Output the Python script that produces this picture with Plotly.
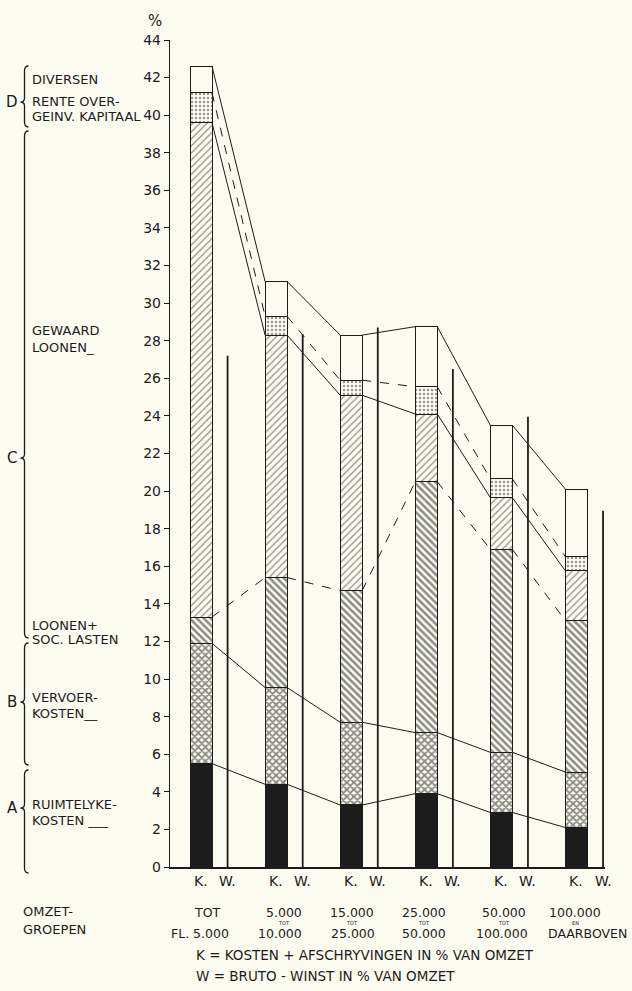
import plotly.graph_objects as go
import numpy as np

# ---------------- data ----------------
group_line1 = ["TOT", "5.000", "15.000", "25.000", "50.000", "100.000"]
group_mid = ["", "TOT", "TOT", "TOT", "TOT", "EN"]
group_line2 = ["FL. 5.000", "10.000", "25.000", "50.000", "100.000", "DAARBOVEN"]

A_ruimtelyke = [5.5, 4.4, 3.3, 3.9, 2.9, 2.1]          # ruimtelyke kosten
B_vervoer = [6.4, 5.15, 4.4, 3.25, 3.2, 2.95]         # vervoerkosten
C1_loonen_soc = [1.4, 5.85, 7.0, 13.35, 10.8, 8.05]   # loonen + soc. lasten
C2_gewaard = [26.3, 12.9, 10.4, 3.6, 2.75, 2.65]      # gewaard. loonen
D1_rente = [1.6, 1.0, 0.8, 1.45, 1.0, 0.75]           # rente over geinv. kapitaal
D2_diversen = [1.4, 1.85, 2.4, 3.2, 2.85, 3.6]        # diversen
W_bruto_winst = [27.2, 28.35, 28.7, 26.5, 23.95, 18.95]

y_ticks = list(range(0, 45, 2))

# ---------------- styling ----------------
BG = "#fbfbef"
INK = "#1c1c1c"
FONT = "DejaVu Sans, Verdana, sans-serif"

n = len(A_ruimtelyke)
xk = np.arange(n, dtype=float)
W_OFF = 0.354
BAR_W = 0.293
xw = xk + W_OFF

L, R, T, B = 170, 27, 40, 124
FIG_W, FIG_H = 632, 991
PW, PH = FIG_W - L - R, FIG_H - T - B


def xp(px):
    return (px - L) / PW


def yp(py):
    return (FIG_H - B - py) / PH


fig = go.Figure()

series = [
    (A_ruimtelyke, dict(color=INK)),
    (B_vervoer, dict(color=BG, pattern=dict(shape="x", size=5, solidity=0.6, fgcolor=INK, bgcolor=BG))),
    (C1_loonen_soc, dict(color=BG, pattern=dict(shape="\\", size=5, solidity=0.5, fgcolor=INK, bgcolor=BG))),
    (C2_gewaard, dict(color=BG, pattern=dict(shape="/", size=5, solidity=0.28, fgcolor="#333333", bgcolor=BG))),
    (D1_rente, dict(color=BG, pattern=dict(shape=".", size=4, solidity=0.3, fgcolor="#333333", bgcolor=BG))),
    (D2_diversen, dict(color=BG)),
]

for vals, mk in series:
    mk = dict(mk)
    mk["line"] = dict(color=INK, width=1)
    fig.add_trace(go.Bar(x=xk, y=vals, width=BAR_W, marker=mk, showlegend=False, hoverinfo="skip"))

# connecting lines between bar boundaries
stack = np.array([s[0] for s in series], dtype=float)
cum = np.cumsum(stack, axis=0)
dashes = ["solid", "solid", "dash", "solid", "dash", "solid"]
for lvl in range(cum.shape[0]):
    xs, ys = [], []
    for i in range(n - 1):
        xs += [xk[i] + BAR_W / 2, xk[i + 1] - BAR_W / 2, None]
        ys += [cum[lvl, i], cum[lvl, i + 1], None]
    fig.add_trace(go.Scatter(x=xs, y=ys, mode="lines",
                             line=dict(color=INK, width=1, dash=dashes[lvl]),
                             showlegend=False, hoverinfo="skip"))

# W lines (bruto-winst)
xs, ys = [], []
for i in range(n):
    xs += [xw[i], xw[i], None]
    ys += [0, W_bruto_winst[i], None]
fig.add_trace(go.Scatter(x=xs, y=ys, mode="lines", line=dict(color=INK, width=1.8),
                         showlegend=False, hoverinfo="skip"))

ann = []
# K. W. labels
for i in range(n):
    ann.append(dict(x=xk[i], y=0, xref="x", yref="y", text="K.", showarrow=False,
                    xanchor="center", yanchor="top", yshift=-4,
                    font=dict(size=14, color=INK, family=FONT)))
    ann.append(dict(x=xw[i], y=0, xref="x", yref="y", text="W.", showarrow=False,
                    xanchor="center", yanchor="top", yshift=-4,
                    font=dict(size=14, color=INK, family=FONT)))

# group labels
grp_cx1 = [207, 284, 352, 424, 504, 575]
grp_cx2 = [200, 280, 353, 424, 502, 587]
for i in range(n):
    ann.append(dict(x=xp(grp_cx1[i]), y=yp(912.5), xref="paper", yref="paper", text=group_line1[i],
                    showarrow=False, borderpad=0, xanchor="center", yanchor="middle",
                    font=dict(size=12.5, color=INK, family=FONT)))
    if group_mid[i]:
        ann.append(dict(x=xp(grp_cx1[i]), y=yp(922.8), xref="paper", yref="paper", text=group_mid[i],
                        showarrow=False, borderpad=0, xanchor="center", yanchor="middle",
                        font=dict(size=5, color=INK, family=FONT)))
    ann.append(dict(x=xp(grp_cx2[i]), y=yp(933), xref="paper", yref="paper", text=group_line2[i],
                    showarrow=False, borderpad=0, xanchor="center", yanchor="middle",
                    font=dict(size=12.5, color=INK, family=FONT)))

left_texts = [
    ("OMZET-", 22, 912, 13), ("GROEPEN", 22, 929, 13),
    ("DIVERSEN", 31, 79, 13), ("RENTE OVER-", 31, 101, 13), ("GEINV. KAPITAAL", 31, 116, 13),
    ("GEWAARD", 31, 330, 13), ("LOONEN_", 31, 347, 13),
    ("LOONEN+", 31, 625, 13), ("SOC. LASTEN", 31, 639, 13),
    ("VERVOER-", 31, 697, 13), ("KOSTEN__", 31, 713, 13),
    ("RUIMTELYKE-", 31, 804, 13), ("KOSTEN ___", 31, 820, 13),
    ("K = KOSTEN + AFSCHRYVINGEN IN % VAN OMZET", 195, 955, 13.5),
    ("W = BRUTO - WINST IN % VAN OMZET", 195, 976, 13.5),
]
for t, x0, y0, fs in left_texts:
    ann.append(dict(x=xp(x0), y=yp(y0), xref="paper", yref="paper", text=t, showarrow=False,
                    xanchor="left", yanchor="middle", borderpad=0,
                    font=dict(size=fs, color=INK, family=FONT)))

for t, x0, y0 in [("D", 12, 102), ("C", 12, 458), ("B", 12, 702), ("A", 12, 808)]:
    ann.append(dict(x=xp(x0), y=yp(y0), xref="paper", yref="paper", text=t, showarrow=False,
                    xanchor="center", yanchor="middle", font=dict(size=15, color=INK, family=FONT)))

ann.append(dict(x=xp(155), y=yp(21), xref="paper", yref="paper", text="%", showarrow=False,
                xanchor="center", yanchor="middle", font=dict(size=15, color=INK, family=FONT)))


def brace(top, bottom, tip, xv=24.5, xt=20.5, xe=28.5):
    pts = [
        ("M", [(xe, top)]),
        ("Q", [(xv, top), (xv, top + 5)]),
        ("L", [(xv, tip - 4)]),
        ("Q", [(xv, tip), (xt, tip)]),
        ("Q", [(xv, tip), (xv, tip + 4)]),
        ("L", [(xv, bottom - 5)]),
        ("Q", [(xv, bottom), (xe, bottom)]),
    ]
    s = ""
    for cmd, p in pts:
        s += cmd + " " + " ".join(f"{xp(a):.5f},{yp(b):.5f}" for a, b in p) + " "
    return dict(type="path", path=s.strip(), xref="paper", yref="paper",
                line=dict(color=INK, width=1.3))


shapes = [brace(66, 127, 102), brace(131, 638, 458), brace(643, 765, 702), brace(770, 873, 808)]

fig.update_layout(
    width=FIG_W, height=FIG_H,
    margin=dict(l=L, r=R, t=T, b=B),
    paper_bgcolor=BG, plot_bgcolor=BG,
    barmode="stack", bargap=0,
    annotations=ann, shapes=shapes,
    font=dict(family=FONT, color=INK),
    xaxis=dict(range=[-0.413, 5.38], showgrid=False, zeroline=False, showticklabels=False,
               showline=True, linecolor=INK, linewidth=1.5, ticks=""),
    yaxis=dict(range=[0, 44], showgrid=False, zeroline=False, showline=True, linecolor=INK,
               linewidth=1.2, ticks="outside", ticklen=5, tickwidth=1, tickcolor=INK,
               tickvals=y_ticks, ticktext=[str(v) for v in y_ticks],
               tickfont=dict(size=14, color=INK, family=FONT)),
)

fig.write_html(
    "out.html",
    config={"displayModeBar": False, "staticPlot": True},
    post_script="document.body.style.margin='0px';document.body.style.padding='0px';"
                "document.body.style.background='" + BG + "';",
)
